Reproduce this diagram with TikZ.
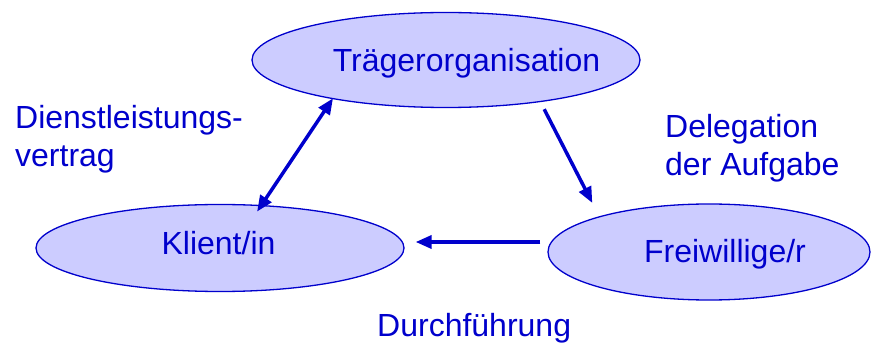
\documentclass[tikz,border=0pt]{standalone}
\usepackage{fontspec}
\setmainfont{Liberation Sans}
\usetikzlibrary{shapes.geometric,arrows.meta,calc}
\definecolor{lblue}{HTML}{0000CC}
\definecolor{efill}{HTML}{CCCCFF}
\begin{document}
\begin{tikzpicture}[x=1pt,y=1pt,
  oval/.style={ellipse,draw=lblue,fill=efill,line width=1.3pt,inner sep=0pt},
  txt/.style={text=lblue,font=\fontsize{32}{38}\selectfont,inner sep=0pt,anchor=base},
  lab/.style={text=lblue,font=\fontsize{32}{38}\selectfont,inner sep=0pt,anchor=base west,align=left},
  arr/.style={draw=lblue,line width=3.5pt,-{Triangle[length=16pt,width=13pt]}},
  dbl/.style={draw=lblue,line width=3.5pt,{Triangle[length=16pt,width=13pt]}-{Triangle[length=16pt,width=13pt]}}]
\useasboundingbox (0,0) rectangle (871,343);
\node[oval,minimum width=388pt,minimum height=95pt] (top) at (446,283) {};
\node[oval,minimum width=368pt,minimum height=87pt] (left) at (220,95) {};
\node[oval,minimum width=322pt,minimum height=96pt] (right) at (709,91) {};
\node[txt] (ttop) at (466.5,271) {Trägerorganisation};
\node[txt] (tleft) at (218.5,88) {Klient/in};
\node[txt] (tright) at (725,80) {Freiwillige/r};
\node[lab] (l1) at (15,176) {Dienstleistungs-\\vertrag};
\node[lab] (l2) at (665,167) {Delegation\\der Aufgabe};
\node[lab] (l3) at (377,6) {Durchführung};
\draw[dbl,shorten <=-8pt,shorten >=-1pt] (left.46) -- (top.199);
\draw[arr,shorten <=8pt,shorten >=15pt] (top.336.7) -- (right.162.9);
\draw[arr,shorten <=7pt,shorten >=11pt] ([yshift=10pt]right.west) -- ([yshift=10pt]right.west -| left.east);
\end{tikzpicture}
\end{document}
